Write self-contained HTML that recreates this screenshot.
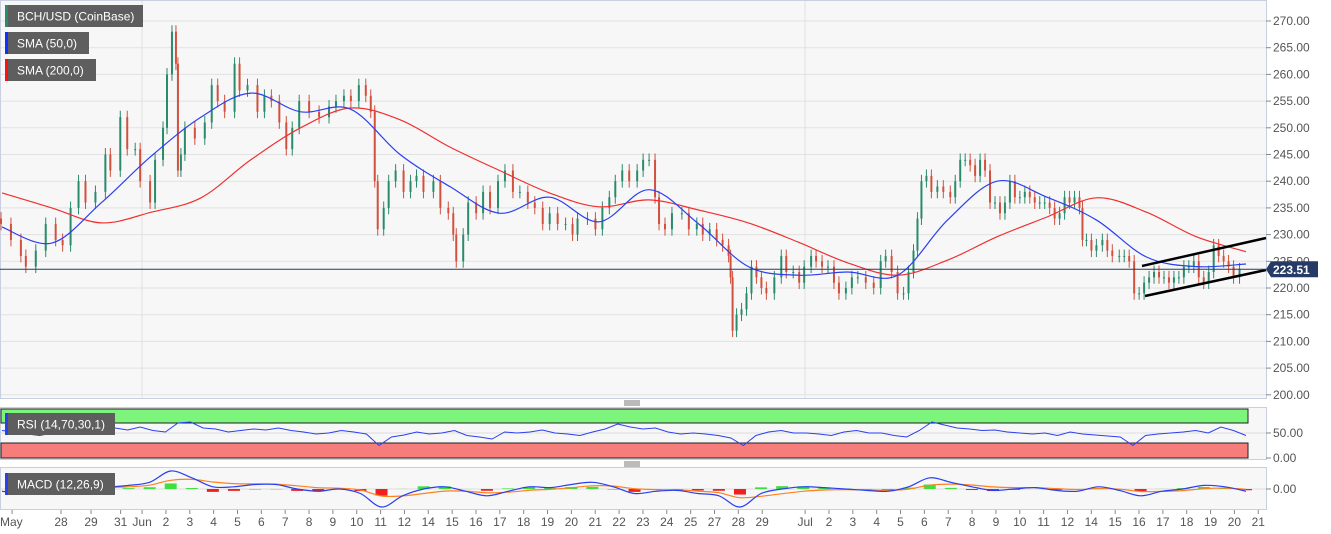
<!DOCTYPE html>
<html><head><meta charset="utf-8">
<style>
html,body{margin:0;padding:0;background:#fff;}
body{width:1331px;height:534px;overflow:hidden;font-family:"Liberation Sans",sans-serif;}
svg{display:block}
</style></head>
<body>
<svg id="chart" width="1331" height="534" xmlns="http://www.w3.org/2000/svg"></svg>
<script>
// ===== DATA =====
// times in hours since chart start
const times = [0,10,20,25,35,45,55,62,70,78,85,95,105,110,120,127,135,140,150,155,163,167,172,176,178,181,185,195,205,212,218,225,235,240,248,258,265,272,280,287,293,300,310,320,330,337,345,352,360,367,372,376,379,385,390,397,405,412,418,425,435,442,450,455,458,465,470,478,485,492,500,507,515,522,530,537,545,552,560,568,575,580,590,598,605,612,618,625,632,640,646,652,658,662,668,675,685,692,700,706,713,720,726,732,734,736,740,745,750,755,760,765,770,778,785,790,797,803,808,815,820,826,832,838,843,850,856,862,870,878,885,890,896,902,908,913,918,922,926,931,936,942,948,955,960,965,970,975,980,985,990,995,1000,1005,1010,1015,1020,1025,1030,1035,1040,1045,1050,1055,1060,1065,1070,1075,1080,1085,1088,1092,1097,1102,1108,1113,1118,1125,1130,1135,1140,1145,1150,1155,1160,1165,1170,1175,1180,1185,1190,1195,1200,1205,1210,1215,1220,1225,1230,1235,1240,1246];
const closes = [232,229,226,224,227,232,229,228,235,240,236,238,245,242,252,246,246,240,236,244,250,260,268,262,242,245,250,248,251,258,255,253,262,257,258,253,256,255,251,246,250,255,253,252,254,255,256,255,258,256,253,240,231,235,240,242,238,240,241,238,240,235,234,230,225,230,236,234,238,235,240,242,238,238,236,235,232,234,232,232,230,233,233,231,235,237,240,242,240,242,244,244,237,232,231,234,234,231,232,230,231,229,228,226,222,212,215,216,219,224,222,220,219,222,226,223,223,221,224,226,225,224,224,221,219,220,222,222,221,220,225,226,223,219,219,223,227,233,240,241,238,239,238,237,240,244,244,243,241,244,242,236,236,234,236,240,237,237,238,237,236,236,236,235,233,234,237,236,237,235,229,229,227,228,229,227,226,226,226,225,219,219,221,222,223,222,222,221,222,222,224,224,225,222,221,223,228,226,225,224,222,223.5];
const sma50 = [231.4,228.4,236,244.7,252,256.5,253,253.5,245,239,234,237,232.4,238.4,232,224,222.4,223,222.4,232.7,240,237,232.7,225.8,224,224.5];
const sma200 = [237.8,235,232.2,234.2,236.9,244,250,253.7,251.5,246.4,242,237.8,235.2,236.5,234.6,232.2,228.6,224.7,222.4,225.2,229.6,233.3,236.9,234.2,229.6,226.8];
const rsi = [55,52,48,45,50,56,52,58,54,60,56,62,55,52,70,72,60,58,52,55,58,56,60,55,52,48,50,55,52,48,25,42,46,52,48,50,55,45,42,38,52,50,52,56,50,48,45,52,58,68,62,58,60,52,48,50,48,45,40,25,45,52,55,50,50,48,45,52,55,50,50,45,42,55,72,66,60,58,55,56,52,50,48,50,45,52,48,46,44,42,25,45,48,50,52,55,50,62,55,45];
const macd = [-0.5,-1,-0.5,0.5,1,0.5,0.8,1.5,4,2.5,0.5,0.5,1,1,0,-0.5,0,-1,-4,-1.5,0,0.5,-0.5,-1.5,-0.5,0.5,0.3,1,1.5,0.5,-1,-0.5,-0.3,-1,-1.5,-4,-1,0,0.5,0.3,0,-0.3,-0.5,0.5,2.5,1.5,0.5,-0.3,0,0.3,-0.3,-0.5,0.5,-0.3,-1.5,-0.5,0,0.8,0.5,-0.5];
const priceTicks = [270,265,260,255,250,245,240,235,230,225,220,215,210,205,200];
const dateLabels = ["May","28","29","31","Jun","2","3","4","5","6","7","8","9","10","11","12","14","15","16","17","18","19","20","21","22","23","24","25","27","28","29","Jul","2","3","4","5","6","7","8","9","10","11","12","14","15","16","17","18","19","20","21"];
const dateSlots = [-2.05,0,1.26,2.5,3.4,4.4,5.4,6.4,7.4,8.4,9.4,10.4,11.4,12.4,13.4,14.4,15.4,16.4,17.4,18.4,19.4,20.4,21.4,22.4,23.4,24.4,25.4,26.4,27.4,28.4,29.4,31.2,32.2,33.2,34.2,35.2,36.2,37.2,38.2,39.2,40.2,41.2,42.2,43.2,44.2,45.2,46.2,47.2,48.2,49.2,50.2];
const lastPrice = 223.51;

// ===== SCALES =====
const svg = document.getElementById('chart');
const NS = 'http://www.w3.org/2000/svg';
const PR = 1266, PLOT_END = 1246;
const yP = p => 21 + (270 - p) * 5.34;
const xT = h => 1 + h * 0.994;
const xI = (i, n) => 2 + i * (PLOT_END - 2) / (n - 1);
const yR = v => 458 - v * 0.5;
const yM = v => 489 - v * 4.5;
const xDate = s => 61 + s * 23.85;
function mk(tag, attrs, parent) {
  const e = document.createElementNS(NS, tag);
  for (const k in attrs) e.setAttribute(k, attrs[k]);
  (parent || svg).appendChild(e);
  return e;
}

let e;
e = mk('rect', {x:0.5,y:0.5,width:PR,height:398,fill:'#f7f7f7',stroke:'#c8d0e0'});


e = mk('rect', {x:0.5,y:407.5,width:PR,height:52,fill:'#f7f7f7',stroke:'#c8d0e0'});


e = mk('rect', {x:0.5,y:467.5,width:PR,height:42,fill:'#f7f7f7',stroke:'#c8d0e0'});



priceTicks.forEach(p => {
  const y = yP(p);
  let g = mk('line', {x1:1,x2:PR,y1:y,y2:y,stroke:'#e2e2e2','stroke-width':1});
  
  
  mk('line', {x1:PR,x2:PR+5,y1:y,y2:y,stroke:'#888'});
  let t = mk('text', {x:1273,y:y+4,'font-size':12,fill:'#555'});
  t.textContent = p.toFixed(2);
  
  
});
[142,805].forEach(x => {
  let g = mk('line', {x1:x,x2:x,y1:1,y2:398,stroke:'#e2e2e2'});
  
  
});

// candles
const n = closes.length;
for (let i = 0; i < n; i++) {
  const c = closes[i], o = i > 0 ? closes[i-1] : c + 1;
  const x = xT(times[i]);
  const up = c >= o;
  const col = up ? '#2a8a6c' : '#d2503e';
  const hi = Math.max(o, c) + 1.2, lo = Math.min(o, c) - 1.2;
  let w = mk('line', {x1:x,x2:x,y1:yP(hi),y2:yP(lo),stroke:col,'stroke-width':1});
  
  
  let b = mk('rect', {x:x-1,y:yP(Math.max(o,c)),width:2,height:Math.max(1,Math.abs(yP(o)-yP(c))),fill:col});
  
  
}

// smooth line helper (Catmull-Rom)
function smooth(arr, yf, color, name, w) {
  const P = arr.map((v, i) => [xI(i, arr.length), yf(v)]);
  let d = 'M' + P[0][0].toFixed(1) + ' ' + P[0][1].toFixed(1);
  for (let i = 0; i < P.length - 1; i++) {
    const p0 = P[i-1] || P[i], p1 = P[i], p2 = P[i+1], p3 = P[i+2] || P[i+1];
    const c1 = [p1[0] + (p2[0]-p0[0])/6, p1[1] + (p2[1]-p0[1])/6];
    const c2 = [p2[0] - (p3[0]-p1[0])/6, p2[1] - (p3[1]-p1[1])/6];
    d += ` C${c1[0].toFixed(1)} ${c1[1].toFixed(1)} ${c2[0].toFixed(1)} ${c2[1].toFixed(1)} ${p2[0].toFixed(1)} ${p2[1].toFixed(1)}`;
  }
  let l = mk('path', {d:d,fill:'none',stroke:color,'stroke-width':w||1.2});
  
  
  return l;
}
function line(arr, yf, color, name, w) {
  const pts = arr.map((v, i) => xI(i, arr.length).toFixed(1) + ',' + yf(v).toFixed(1)).join(' ');
  let l = mk('polyline', {points:pts,fill:'none',stroke:color,'stroke-width':w||1.2});
  
  
  return l;
}
smooth(sma200, yP, '#f03030', 'sma-200-line');
smooth(sma50, yP, '#2a40f0', 'sma-50-line');

e = mk('line', {x1:1142,y1:266,x2:1266,y2:238,stroke:'#000','stroke-width':2.5});


e = mk('line', {x1:1145,y1:296,x2:1266,y2:270,stroke:'#000','stroke-width':2.5});



const ly = yP(lastPrice);
e = mk('line', {x1:0,x2:PR,y1:ly,y2:ly,stroke:'#253a66','stroke-width':1});


e = mk('path', {d:`M1266 ${ly} L1271 ${ly-8} L1318 ${ly-8} L1318 ${ly+8} L1271 ${ly+8} Z`,fill:'#253a66'});


e = mk('text', {x:1273,y:ly+4.5,'font-size':12,'font-weight':'bold',fill:'#fff'});
e.textContent = lastPrice.toFixed(2);



// RSI
e = mk('rect', {x:1,y:yR(98),width:1247,height:yR(70)-yR(98),fill:'#7df57d',stroke:'#222'});


e = mk('rect', {x:1,y:yR(30),width:1247,height:yR(0)-yR(30),fill:'#f77c7c',stroke:'#222'});


mk('line', {x1:1,x2:PR,y1:yR(50),y2:yR(50),stroke:'#ddd'});
line(rsi, yR, '#2a40f0', 'rsi-line', 1);
[[50,'50.00'],[0,'0.00']].forEach(([v,s]) => {
  mk('line', {x1:PR,x2:PR+5,y1:yR(v),y2:yR(v),stroke:'#888'});
  let t = mk('text', {x:1273,y:yR(v)+4,'font-size':12,fill:'#555'});
  t.textContent = s;
  
  
});

// MACD
mk('line', {x1:1,x2:PR,y1:yM(0),y2:yM(0),stroke:'#ddd'});
const signal = [];
macd.forEach((v, i) => signal.push(i === 0 ? v : signal[i-1] + (v - signal[i-1]) * 0.35));
macd.forEach((v, i) => {
  const h = (v - signal[i]) * 0.6;
  const x = xI(i, macd.length);
  let r = mk('rect', {x:x-6,width:12,y:Math.min(yM(0), yM(h)),height:Math.abs(yM(h)-yM(0)),fill:h>=0?'#3de03d':'#f02020'});
  
  
});
smooth(signal, yM, '#ff8020', 'macd-signal-line', 1.2);
smooth(macd, yM, '#2a40f0', 'macd-line', 1.2);
mk('line', {x1:PR,x2:PR+5,y1:yM(0),y2:yM(0),stroke:'#888'});
e = mk('text', {x:1273,y:yM(0)+4,'font-size':12,fill:'#555'});
e.textContent = '0.00';



[403,464].forEach(y => {
  const g = mk('g', {});
  
  
  [-2,0,2].forEach(d => mk('line', {x1:624,x2:640,y1:y+d,y2:y+d,stroke:'#777'}, g));
});

dateLabels.forEach((lab, i) => {
  const x = xDate(dateSlots[i]);
  mk('line', {x1:x,x2:x,y1:510,y2:514,stroke:'#888'});
  let t = mk('text', {x:x,y:526,'font-size':12,fill:'#555','text-anchor':lab==='May'?'start':'middle'});
  if (lab === 'May') t.setAttribute('x', 0);
  t.textContent = lab;
  
  
});

function legend(x, y, w, color, text, name) {
  const g = mk('g', {});
  
  
  mk('rect', {x:x,y:y,width:w,height:22,fill:'#5e5e5e'}, g);
  mk('rect', {x:x,y:y,width:3,height:22,fill:color}, g);
  const t = mk('text', {x:x+12,y:y+15.5,'font-size':12,fill:'#fff'}, g);
  t.textContent = text;
  return g;
}
legend(5, 5, 138, '#2a8a6c', 'BCH/USD (CoinBase)', 'legend-bch-usd');
legend(5, 32, 84, '#1030ff', 'SMA (50,0)', 'legend-sma-50');
legend(5, 59, 91, '#ff1010', 'SMA (200,0)', 'legend-sma-200');
legend(5, 413, 110, '#2a40f0', 'RSI (14,70,30,1)', 'legend-rsi');
legend(5, 473, 110, '#2a40f0', 'MACD (12,26,9)', 'legend-macd');
</script>
</body></html>
